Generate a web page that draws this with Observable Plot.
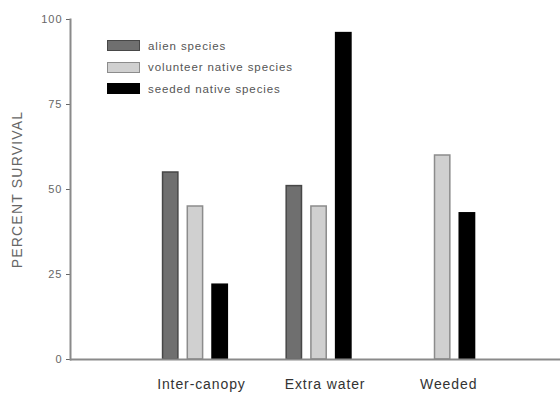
<!DOCTYPE html>
<html>
<head>
<meta charset="utf-8">
<script src="https://cdn.jsdelivr.net/npm/d3@7"></script>
<script src="https://cdn.jsdelivr.net/npm/@observablehq/plot@0.6"></script>
<style>
  html, body { margin: 0; padding: 0; background: #fff; }
  #wrap { position: relative; width: 560px; height: 394px; font-family: "Liberation Sans", Arial, sans-serif; }
  #legend { position: absolute; left: 107px; top: 35px; }
  .row { display: flex; align-items: center; height: 21.5px; }
  .sw { width: 31px; height: 9px; margin-right: 8px; border: 1px solid; }
  .lab { font-size: 11.5px; letter-spacing: 0.9px; color: #555; }
  svg [aria-label="y-axis label"] text { font-size: 14px; letter-spacing: 1.2px; }
  svg [aria-label="y-axis tick label"] text { letter-spacing: 1px; }
  svg [aria-label="x-axis tick label"] text { letter-spacing: 0.9px; }
</style>
</head>
<body>
<div id="wrap"><div id="legend"></div></div>
<script>
const groups = ["Inter-canopy", "Extra water", "Weeded"];
const series = ["alien species", "volunteer native species", "seeded native species"];
const alien = [55, 51, null];
const volunteer = [45, 45, 60];
const seeded = [22, 96, 43];
const yTicks = [0, 25, 50, 75, 100];
const fills = ["#6f6f6f", "#d0d0d0", "#000000"];
const strokes = ["#474747", "#8c8c8c", "#000000"];

const valuesBySeries = [alien, volunteer, seeded];
const key = (g, s) => g + "|" + s;
const data = [];
groups.forEach((g, gi) => series.forEach((s, si) => {
  data.push({group: g, series: s, key: key(g, s), value: valuesBySeries[si][gi]});
}));

// band slots: three bars per group, two empty slots between groups
const slots = [];
groups.forEach((g, gi) => {
  if (gi > 0) { slots.push("gap" + gi + "a", "gap" + gi + "b"); }
  series.forEach(s => slots.push(key(g, s)));
});
const middleKeys = groups.map(g => key(g, series[1]));

const chart = Plot.plot({
  width: 560,
  height: 394,
  marginLeft: 70,
  marginRight: 0,
  marginTop: 19,
  marginBottom: 35,
  style: {fontFamily: "'Liberation Sans', Arial, sans-serif", background: "white"},
  x: {domain: slots, paddingInner: 0.38, paddingOuter: 3.6, align: 0.52, round: false, axis: null},
  y: {domain: [0, 100], axis: null},
  marks: [
    ...series.map((s, i) => Plot.barY(
      data.filter(d => d.series === s && d.value != null),
      {x: "key", y: "value", fill: fills[i], stroke: strokes[i], strokeWidth: 1.5}
    )),
    Plot.axisX({
      ticks: middleKeys,
      tickFormat: k => k.split("|")[0],
      tickSize: 0,
      tickPadding: 20,
      fontSize: 14,
      dx: 6,
      color: "#333",
      label: null
    }),
    Plot.axisY({
      ticks: yTicks,
      tickSize: 4,
      tickPadding: 4,
      fontSize: 11,
      color: "#666",
      label: "PERCENT SURVIVAL",
      labelAnchor: "center",
      labelArrow: "none",
      labelOffset: 58
    }),
    Plot.frame({anchor: "left", stroke: "#8a8a8a", strokeWidth: 2}),
    Plot.ruleY([0], {stroke: "#8a8a8a", strokeWidth: 2})
  ]
});

const wrap = document.getElementById("wrap");
wrap.insertBefore(chart, wrap.firstChild);

const legend = document.getElementById("legend");
series.forEach((s, i) => {
  const row = document.createElement("div");
  row.className = "row";
  const sw = document.createElement("div");
  sw.className = "sw";
  sw.style.background = fills[i];
  sw.style.borderColor = strokes[i];
  const lab = document.createElement("span");
  lab.className = "lab";
  lab.textContent = s;
  row.appendChild(sw);
  row.appendChild(lab);
  legend.appendChild(row);
});
</script>
</body>
</html>
